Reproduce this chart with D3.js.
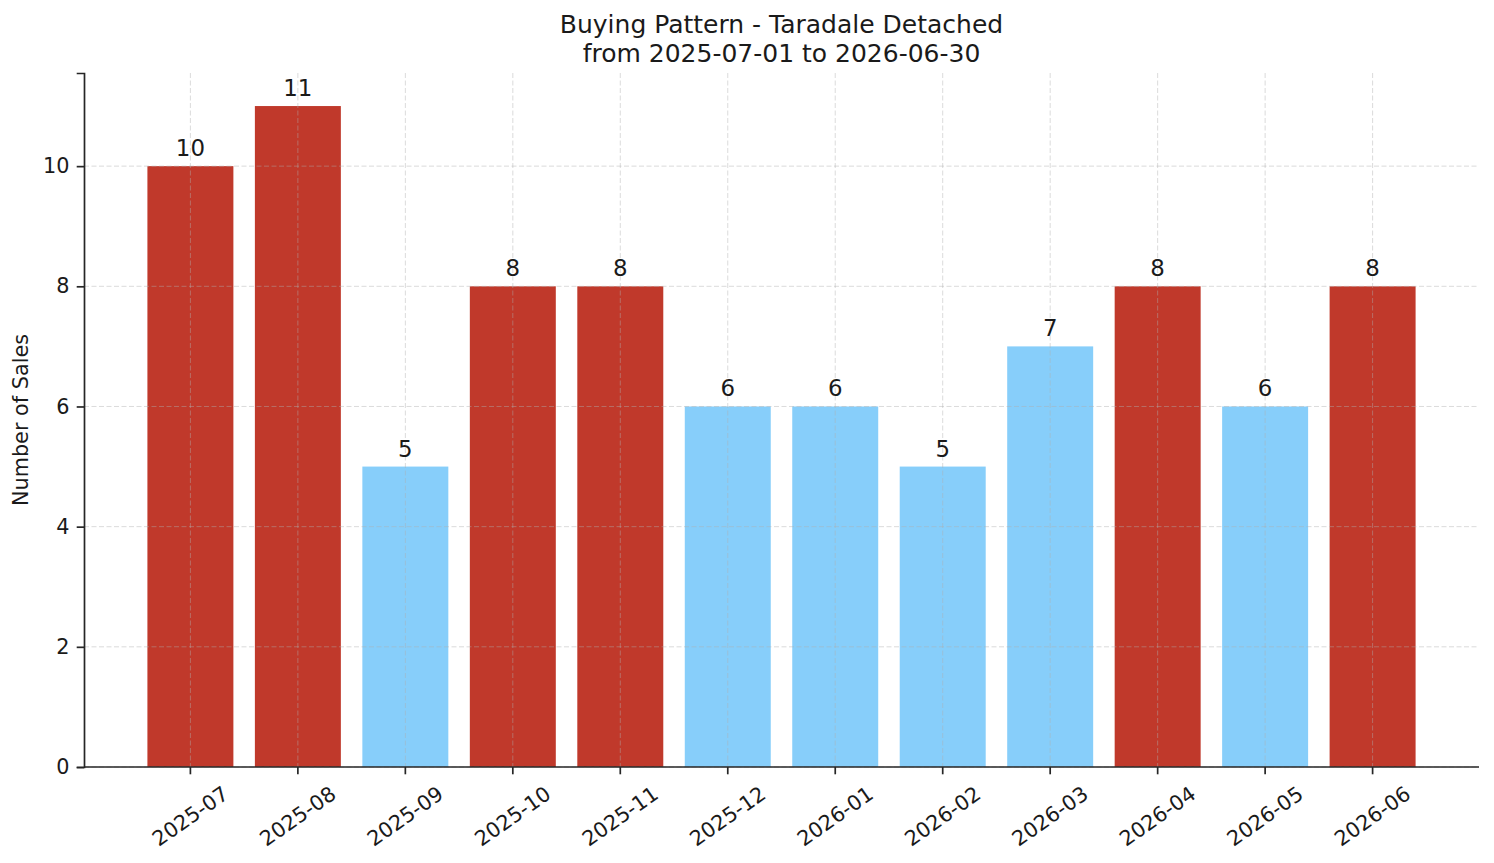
<!DOCTYPE html>
<html>
<head>
<meta charset="utf-8">
<script src="https://cdn.jsdelivr.net/npm/d3@7"></script>
<style>
  body { margin: 0; background: #fff; }
  text { font-family: "DejaVu Sans", sans-serif; fill: #1a1a1a; }
</style>
</head>
<body>
<script>
// Buying pattern bar chart, monthly sales counts

var months = ["2025-07", "2025-08", "2025-09", "2025-10", "2025-11", "2025-12",
              "2026-01", "2026-02", "2026-03", "2026-04", "2026-05", "2026-06"];
var sales = [10, 11, 5, 8, 8, 6, 6, 5, 7, 8, 6, 8];
var yTicks = [0, 2, 4, 6, 8, 10];
var titleLines = ["Buying Pattern - Taradale Detached", "from 2025-07-01 to 2026-06-30"];

// months above the average get the red colour
var avg = d3.mean(sales);
var hotColor = "#c0392b";
var coolColor = "#87cefa";

var W = 1494, H = 863;
var margin = {top: 73, right: 15, bottom: 96, left: 84};
var width = W - margin.left - margin.right;
var height = H - margin.top - margin.bottom;

var svg = d3.select("body").append("svg")
    .attr("width", W)
    .attr("height", H)
    .append("g")
    .attr("transform", "translate(" + margin.left + "," + margin.top + ")");

var x = d3.scaleBand()
    .domain(months)
    .range([0, width])
    .paddingInner(0.2)
    .paddingOuter(0.59);

var y = d3.scaleLinear()
    .domain([0, d3.max(sales) * 1.05])
    .range([height, 0]);

// bars
svg.selectAll(".bar")
    .data(months)
    .enter().append("rect")
    .attr("class", "bar")
    .attr("x", function(d) { return x(d); })
    .attr("width", x.bandwidth())
    .attr("y", function(d, i) { return y(sales[i]); })
    .attr("height", function(d, i) { return height - y(sales[i]); })
    .attr("fill", function(d, i) { return sales[i] > avg ? hotColor : coolColor; });

// grid on top of the bars
var grid = svg.append("g").attr("class", "grid");
grid.selectAll(".hgrid")
    .data(yTicks)
    .enter().append("line")
    .attr("x1", 0).attr("x2", width)
    .attr("y1", function(d) { return y(d); })
    .attr("y2", function(d) { return y(d); });
grid.selectAll(".vgrid")
    .data(months)
    .enter().append("line")
    .attr("x1", function(d) { return x(d) + x.bandwidth() / 2; })
    .attr("x2", function(d) { return x(d) + x.bandwidth() / 2; })
    .attr("y1", 0).attr("y2", height);
grid.selectAll("line")
    .attr("stroke", "#b0b0b0")
    .attr("stroke-opacity", 0.5)
    .attr("stroke-width", 0.9)
    .attr("stroke-dasharray", "5,2.5");

// value labels
svg.selectAll(".val")
    .data(months)
    .enter().append("text")
    .attr("class", "val")
    .attr("x", function(d) { return x(d) + x.bandwidth() / 2; })
    .attr("y", function(d, i) { return y(sales[i]) - 10; })
    .attr("text-anchor", "middle")
    .style("font-size", "22.9px")
    .text(function(d, i) { return sales[i]; });

// y axis
var yAxis = svg.append("g")
    .call(d3.axisLeft(y).tickValues(yTicks).tickSize(7.3).tickPadding(7.3));
yAxis.selectAll("text").style("font-size", "20.8px");

// x axis
var xAxis = svg.append("g")
    .attr("transform", "translate(0," + height + ")")
    .call(d3.axisBottom(x).tickSize(7.3).tickSizeOuter(0));
xAxis.select(".domain").attr("d", "M0,0H" + width);

// rotate x tick labels 35deg, bbox centred under tick like matplotlib
var ang = 35 * Math.PI / 180;
xAxis.selectAll(".tick text")
    .style("font-size", "20.8px")
    .attr("dy", null)
    .attr("y", 0)
    .attr("dominant-baseline", "central")
    .attr("text-anchor", "middle")
    .attr("transform", function() {
        var w = this.getComputedTextLength();
        var h = 20.8 * 1.16;
        var bh = w * Math.sin(ang) + h * Math.cos(ang);
        return "translate(0," + (7.3 + 7.3 + bh / 2) + ") rotate(-35)";
    });

[yAxis, xAxis].forEach(function(a) {
    a.select(".domain").attr("stroke", "#262626").attr("stroke-width", 1.7);
    a.selectAll(".tick line").attr("stroke", "#262626").attr("stroke-width", 1.7);
    a.selectAll(".tick text").style("fill", "#1a1a1a").attr("font-family", "DejaVu Sans");
});

// y label
svg.append("text")
    .attr("transform", "rotate(-90)")
    .attr("x", -height / 2)
    .attr("y", -56)
    .attr("text-anchor", "middle")
    .style("font-size", "20.8px")
    .text("Number of Sales");

// title
svg.selectAll(".title")
    .data(titleLines)
    .enter().append("text")
    .attr("class", "title")
    .attr("x", width / 2)
    .attr("y", function(d, i) { return -40 + i * 29; })
    .attr("text-anchor", "middle")
    .style("font-size", "25px")
    .text(function(d) { return d; });
</script>
</body>
</html>
